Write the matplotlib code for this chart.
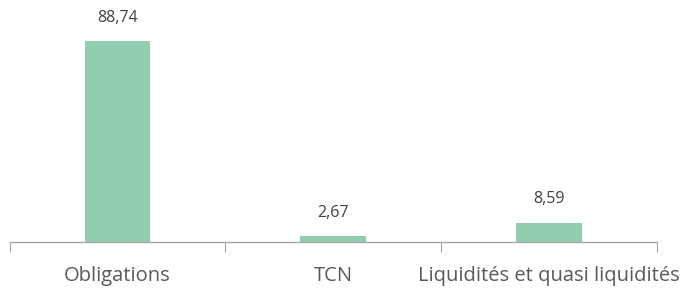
import matplotlib.pyplot as plt

# data ===========================================================
categories = ['Obligations', 'TCN', 'Liquidités et quasi liquidités']
values = [88.74, 2.67, 8.59]
value_labels = ['88,74', '2,67', '8,59']
# ================================================================

plt.rcParams['font.family'] = ['Open Sans', 'DejaVu Sans']

fig = plt.figure(figsize=(6.85, 2.89), dpi=100)
ax = fig.add_axes([0.014, 0.1626, 0.945, 0.8374])

x = list(range(len(categories)))
bars = ax.bar(x, values, width=0.305, color='#93CDB0')

for i, v in enumerate(values):
    ax.text(x[i], v + 10.3, value_labels[i], ha='center', va='center',
            fontsize=11.5, color='#404040')

ax.set_xlim(-0.5, len(categories) - 0.5)
ax.set_ylim(0, 107)

for side in ['top', 'right', 'left']:
    ax.spines[side].set_visible(False)
ax.spines['bottom'].set_color('#a6a6a6')
ax.spines['bottom'].set_linewidth(1)

ax.set_yticks([])
ax.set_xticks([-0.5, 0.5, 1.5, 2.5])
ax.set_xticklabels([])
ax.tick_params(axis='x', length=7, color='#a6a6a6', direction='out')

ax.set_xticks(x, minor=True)
ax.set_xticklabels(categories, minor=True, fontsize=14.5, color='#595959')
ax.tick_params(axis='x', which='minor', length=0, pad=17)

fig.savefig('out.png', dpi=100)
